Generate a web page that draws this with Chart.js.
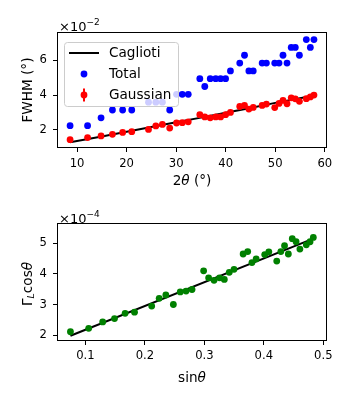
<!DOCTYPE html>
<html><head><meta charset="utf-8">
<script src="https://cdn.jsdelivr.net/npm/chart.js@4.4.1/dist/chart.umd.min.js"></script>
<style>
html,body{margin:0;padding:0;background:#fff;width:350px;height:400px;overflow:hidden}
canvas{position:absolute;left:0}
#c1{top:0}#c2{top:200px}
</style></head><body>
<canvas id="c1" width="350" height="200"></canvas>
<canvas id="c2" width="350" height="200"></canvas>
<script>
// ---------- data (FWHM values in units of 1e-2 deg, Lorentzian in units of 1e-4) ----------
const twoTheta = [8.59,12.12,14.84,17.14,19.2,21.04,24.42,25.9,27.22,28.7,30.08,31.24,32.44,34.78,35.78,36.88,37.99,38.97,39.98,40.96,42.84,43.8,44.68,45.56,47.36,48.22,49.9,50.77,51.57,52.38,53.23,54.05,54.88,56.28,57.09,57.82];
const totalFWHM = [2.25,2.25,2.70,3.15,3.15,3.15,3.60,3.60,3.60,3.15,4.05,4.05,4.05,4.95,4.50,4.95,4.95,4.95,4.95,5.40,5.85,6.30,5.40,5.40,5.85,5.85,5.85,5.85,6.30,5.85,6.75,6.75,6.30,7.20,6.75,7.20];
const gaussFWHM = [1.44,1.56,1.66,1.75,1.86,1.90,2.03,2.23,2.32,2.11,2.40,2.42,2.47,2.88,2.75,2.70,2.75,2.75,2.88,3.01,3.35,3.41,3.20,3.30,3.41,3.49,3.29,3.53,3.70,3.51,3.85,3.79,3.65,3.80,3.90,4.01];
const cagliotiX = [8.59,15,20,25,30,35,40,45,50,55,57.82];
const cagliotiY = [1.29,1.63,1.90,2.17,2.44,2.71,2.99,3.27,3.56,3.83,3.98];
const sinTheta = [0.0749,0.1056,0.1291,0.1490,0.1668,0.1826,0.2115,0.2241,0.2353,0.2479,0.2595,0.2693,0.2793,0.2988,0.3072,0.3163,0.3255,0.3336,0.3419,0.3499,0.3652,0.3729,0.3800,0.3871,0.4015,0.4084,0.4217,0.4286,0.4348,0.4412,0.4478,0.4542,0.4606,0.4714,0.4777,0.4832];
const lorentzCos = [2.11,2.22,2.43,2.54,2.71,2.75,2.95,3.20,3.31,3.00,3.41,3.44,3.49,4.10,3.87,3.79,3.87,3.82,4.05,4.15,4.65,4.73,4.37,4.49,4.63,4.72,4.42,4.73,4.92,4.65,5.15,5.05,4.81,4.95,5.05,5.19];
const whX = [0.0749,0.4832];
const whY = [1.98,5.15];
const topXTicks = [10,20,30,40,50,60];
const topYTicks = [2,4,6];
const botXTicks = [0.1,0.2,0.3,0.4,0.5];
const botYTicks = [2,3,4,5];

// ---------- helpers ----------
const FAM = '"DejaVu Sans", sans-serif';
const TICK = 11.6, LAB = 13.6;
const f = (s, it) => (it ? 'italic ' : '') + s + 'px ' + FAM;
const pts = (xs, ys) => xs.map((x, i) => ({x, y: ys[i]}));

function drawRuns(ctx, parts, x, y, align) {
  let w = 0;
  parts.forEach(p => { ctx.font = f(p.s, p.i); w += ctx.measureText(p.t).width; });
  let cx = align === 'center' ? x - w / 2 : x;
  ctx.textAlign = 'left'; ctx.textBaseline = 'alphabetic'; ctx.fillStyle = '#000';
  parts.forEach(p => { ctx.font = f(p.s, p.i); ctx.fillText(p.t, cx, y + (p.dy || 0)); cx += ctx.measureText(p.t).width; });
}
function roundRect(ctx, x, y, w, h, r) {
  ctx.beginPath();
  ctx.moveTo(x + r, y); ctx.lineTo(x + w - r, y); ctx.arcTo(x + w, y, x + w, y + r, r);
  ctx.lineTo(x + w, y + h - r); ctx.arcTo(x + w, y + h, x + w - r, y + h, r);
  ctx.lineTo(x + r, y + h); ctx.arcTo(x, y + h, x, y + h - r, r);
  ctx.lineTo(x, y + r); ctx.arcTo(x, y, x + r, y, r); ctx.closePath();
}
const decor = {
  id: 'decor',
  afterDatasetsDraw(chart, args, o) {
    const ctx = chart.ctx, L = o.legend;
    ctx.save();
    roundRect(ctx, L.x + 0.5, L.y + 0.5, L.w, L.h, 3);
    ctx.fillStyle = 'rgba(255,255,255,0.8)'; ctx.fill();
    ctx.strokeStyle = '#cccccc'; ctx.lineWidth = 1; ctx.stroke();
    L.items.forEach((it, i) => {
      const cy = L.y + L.first + i * L.step, hx = L.x + 5, hw = 30, mx = hx + hw / 2;
      if (it.kind === 'line') {
        ctx.strokeStyle = it.color; ctx.lineWidth = 2; ctx.beginPath(); ctx.moveTo(hx, cy); ctx.lineTo(hx + hw, cy); ctx.stroke();
      } else {
        if (it.err) { ctx.strokeStyle = it.color; ctx.lineWidth = 2; ctx.beginPath(); ctx.moveTo(mx, cy - 6.5); ctx.lineTo(mx, cy + 6.5); ctx.stroke(); }
        ctx.fillStyle = it.color; ctx.beginPath(); ctx.arc(mx, cy, 3.4, 0, Math.PI * 2); ctx.fill();
      }
      ctx.fillStyle = '#000'; ctx.font = f(LAB); ctx.textAlign = 'left'; ctx.textBaseline = 'middle';
      ctx.fillText(it.label, L.x + 45, cy);
    });
    ctx.restore();
  },
  afterDraw(chart, args, o) {
    const ctx = chart.ctx, a = chart.chartArea;
    ctx.save();
    ctx.strokeStyle = '#000'; ctx.lineWidth = 1;
    ctx.strokeRect(a.left - 0.5, a.top - 0.5, a.right - a.left + 1, a.bottom - a.top + 1);
    // offset text
    drawRuns(ctx, [{t: '×10', s: 13}, {t: o.exp, s: 9, dy: -5.5}], a.left + 1, o.offY, 'left');
    // x title
    drawRuns(ctx, o.xTitle, (a.left + a.right) / 2, o.xTitleY, 'center');
    // y title
    ctx.translate(o.yTitleX, o.yTitleY); ctx.rotate(-Math.PI / 2);
    drawRuns(ctx, o.yTitle, 0, 0, 'center');
    ctx.restore();
  }
};

function axis(min, max, tickVals, fmt, isX, pad, size) {
  return {
    type: 'linear', min, max,
    afterBuildTicks: s => { s.ticks = tickVals.map(v => ({value: v})); },
    afterFit: s => { if (isX) s.height = size; else s.width = size; },
    ticks: {font: {family: FAM, size: TICK}, color: '#000', padding: pad, autoSkip: false, maxRotation: 0, callback: fmt},
    grid: {drawOnChartArea: false, drawTicks: true, tickLength: 5, tickColor: '#000', tickWidth: 1, lineWidth: 1},
    border: {display: false}
  };
}
const common = {responsive: false, animation: false, events: [], plugins: {legend: {display: false}, tooltip: {enabled: false}}};

// ---------- top chart ----------
new Chart(document.getElementById('c1'), {
  type: 'scatter',
  data: {datasets: [
    {label: 'Gaussian', data: pts(twoTheta, gaussFWHM), backgroundColor: '#ff0000', borderWidth: 0, pointRadius: 3.4, order: 1},
    {label: 'Total', data: pts(twoTheta, totalFWHM), backgroundColor: '#0000ff', borderWidth: 0, pointRadius: 3.4, order: 2},
    {label: 'Caglioti', data: pts(cagliotiX, cagliotiY), showLine: true, borderColor: '#000', borderWidth: 2, pointRadius: 0, order: 3}
  ]},
  options: Object.assign({}, common, {
    layout: {padding: {top: 33, right: 24, left: 0, bottom: 0}},
    scales: {
      x: axis(6.15, 60.25, topXTicks, v => String(v), true, 5.5, 53),
      y: axis(1.02, 7.58, topYTicks, v => String(v), false, 6, 58)
    },
    plugins: Object.assign({}, common.plugins, {decor: {
      legend: {x: 64, y: 42, w: 114, h: 64, first: 11, step: 21, items: [
        {kind: 'line', color: '#000', label: 'Caglioti'},
        {kind: 'dot', color: '#0000ff', label: 'Total'},
        {kind: 'dot', color: '#ff0000', err: true, label: 'Gaussian'}]},
      exp: '−2', offY: 30.5,
      xTitle: [{t: '2', s: LAB}, {t: 'θ', s: LAB, i: true}, {t: ' (°)', s: LAB}], xTitleY: 185,
      yTitle: [{t: 'FWHM (°)', s: LAB}], yTitleX: 31.5, yTitleY: 90
    }})
  }),
  plugins: [decor]
});

// ---------- bottom chart ----------
new Chart(document.getElementById('c2'), {
  type: 'scatter',
  data: {datasets: [
    {label: 'Lorentzian', data: pts(sinTheta, lorentzCos), backgroundColor: '#008000', borderWidth: 0, pointRadius: 3.4, order: 1},
    {label: 'W-H plot', data: pts(whX, whY), showLine: true, borderColor: '#000', borderWidth: 2, pointRadius: 0, order: 2}
  ]},
  options: Object.assign({}, common, {
    layout: {padding: {top: 24, right: 24, left: 0, bottom: 0}},
    scales: {
      x: axis(0.054, 0.5045, botXTicks, v => v.toFixed(1), true, 4.5, 60),
      y: axis(1.84, 5.63, botYTicks, v => String(v), false, 6, 58)
    },
    plugins: Object.assign({}, common.plugins, {decor: {
      legend: {x: 64, y: 232, w: 123, h: 47, first: 13.5, step: 20.5, items: [
        {kind: 'line', color: '#000', label: 'W-H plot'},
        {kind: 'dot', color: '#008000', err: true, label: 'Lorentzian'}]},
      exp: '−4', offY: 22.5,
      xTitle: [{t: 'sin', s: LAB}, {t: 'θ', s: LAB, i: true}], xTitleY: 181.5,
      yTitle: [{t: 'Γ', s: LAB}, {t: 'L', s: 9.5, i: true, dy: 2.5}, {t: 'cos', s: LAB}, {t: 'θ', s: LAB, i: true}], yTitleX: 31.5, yTitleY: 84
    }})
  }),
  plugins: [decor]
});
</script>
</body></html>
